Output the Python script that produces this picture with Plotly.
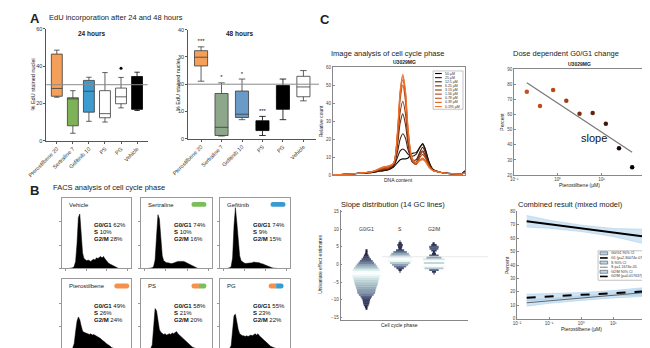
import plotly.graph_objects as go

W, H = 650, 348
FONT = "Arial, 'Liberation Sans', sans-serif"


def X(px):
    return px / W


def Y(py):
    return 1 - py / H


def dx(a, b):
    return [a / W, b / W]


def dy(a, b):
    return [1 - b / H, 1 - a / H]


# ---------------- Panel A data ----------------
a_cats = ["Pterostilbene 20", "Sertraline 7", "Gefitinib 10", "PS", "PG", "Vehicle"]
a24_low = [23.3, 4.0, 10.4, 10.0, 17.6, 16.2]
a24_q1 = [23.8, 8.0, 15.3, 12.3, 19.8, 16.8]
a24_med = [28.0, 22.4, 26.5, 14.5, 23.5, 17.0]
a24_q3 = [46.4, 23.0, 32.3, 26.8, 28.2, 34.4]
a24_high = [48.5, 26.8, 34.0, 36.5, 33.9, 36.7]
a24_outlier = [None, None, None, None, 38.8, None]
a24_colors = ["#F5A05A", "#7DB356", "#3D9BCF", "#FFFFFF", "#FFFFFF", "#000000"]
a24_ref = 30

a48_low = [21.1, 1.0, 7.0, 1.2, 7.0, 13.9]
a48_q1 = [26.7, 1.2, 7.8, 3.0, 10.8, 15.4]
a48_med = [29.9, 4.2, 9.0, 5.0, 15.0, 19.0]
a48_q3 = [32.3, 16.6, 17.5, 6.6, 19.5, 22.9]
a48_high = [33.7, 20.5, 21.9, 8.2, 21.9, 25.0]
a48_sig = ["***", "*", "*", "***", "", ""]
a48_colors = ["#F5A05A", "#8DA78A", "#6A9BC6", "#000000", "#000000", "#FFFFFF"]
a48_ref = 20

# ---------------- Panel B data ----------------
b_names = ["Vehicle", "Sertraline", "Gefitinib", "Pterostilbene", "PS", "PG"]
b_g1 = [62, 74, 74, 49, 58, 55]
b_s = [10, 10, 9, 26, 21, 23]
b_g2 = [28, 16, 15, 24, 20, 22]
b_pills = [[], ["#7CBF5A"], ["#3A9BD0"], ["#F5914A"], ["#F5914A", "#7CBF5A"], ["#F5914A", "#3A9BD0"]]
hist_x = list(range(10, 86, 2))
hist_vehicle = [0, 0, 0, 1, 3, 10, 35, 72, 77, 50, 22, 14, 12, 11, 12, 11, 10, 12, 13, 12, 15, 14, 16, 17, 15, 17, 14, 11, 9, 7, 6, 4, 3, 2, 1, 0.5, 0, 0]
hist_sertraline = [0, 0, 0, 1, 3, 12, 45, 76, 70, 40, 18, 11, 9, 8, 8, 7, 7, 7, 8, 8, 9, 10, 10, 10, 11, 10, 9, 8, 6, 5, 4, 3, 2, 1, 0.5, 0, 0, 0]
hist_gefitinib = [0, 0, 1, 3, 15, 60, 86, 65, 35, 18, 11, 9, 8, 7, 7, 7, 8, 8, 8, 9, 9, 8, 9, 8, 7, 7, 6, 5, 4, 3, 2, 1.5, 1, 0.5, 0, 0, 0, 0]
hist_ptero = [0, 0, 0, 2, 8, 25, 40, 46, 42, 33, 26, 24, 23, 22, 22, 21, 22, 20, 21, 20, 19, 18, 17, 15, 13, 12, 10, 8, 7, 5, 4, 2, 1, 0.5, 0, 0, 0, 0]
hist_ps = [0, 0, 1, 6, 30, 58, 55, 38, 28, 24, 22, 21, 22, 20, 21, 22, 21, 23, 22, 24, 25, 22, 20, 18, 16, 14, 12, 10, 8, 6, 5, 3, 2, 1, 0.5, 0, 0, 0]
hist_pg = [0, 0, 1, 5, 25, 48, 50, 38, 28, 22, 20, 19, 19, 18, 19, 18, 19, 20, 19, 21, 22, 20, 22, 19, 17, 15, 13, 11, 9, 7, 6, 4, 3, 2, 1, 0.5, 0, 0]
b_hists = [hist_vehicle, hist_sertraline, hist_gefitinib, hist_ptero, hist_ps, hist_pg]

# ---------------- Panel C data ----------------
dose_labels = ["50 µM", "25 µM", "12.5 µM", "6.25 µM", "3.13 µM", "1.56 µM", "0.78 µM", "0.39 µM", "0.195 µM"]
dose_colors = ["#000000", "#2E1307", "#4E200B", "#6F2D0F", "#8F3913", "#AD4617", "#C8531B", "#DF6121", "#F0722C"]
spec_x = [0, 10, 20, 30, 38, 42, 46, 49, 51, 53, 55, 57, 60, 63, 66, 68, 70, 73, 76, 82, 90, 97, 100]
spec_curves = [
    [0.3, 0.5, 1, 1.5, 2.5, 3, 4.5, 7, 8.5, 9, 9, 9.5, 12, 12.5, 15.5, 17.5, 14.5, 7, 3, 1.5, 0.8, 0.5, 2.5],
    [0.3, 0.5, 1, 1.5, 2.5, 3, 5, 10, 13.5, 14.5, 13.5, 11.5, 10.5, 11.5, 15.5, 17, 14, 7, 3, 1.5, 0.8, 0.5, 2],
    [0.3, 0.5, 1, 1.7, 3, 3.5, 5.5, 13, 20, 23, 20.5, 14, 8.5, 8.5, 13, 15.5, 12.5, 6, 3, 1.5, 0.8, 0.5, 2],
    [0.3, 0.5, 1, 1.8, 3, 3.5, 6, 17, 29, 34, 28, 17, 7.5, 7, 12, 13.5, 11, 5.5, 2.5, 1.5, 0.8, 0.5, 1.5],
    [0.3, 0.5, 1, 2, 3.5, 4, 6, 19, 35, 41, 34, 19, 7.5, 6, 11, 13, 10.5, 5, 2.5, 1.5, 0.8, 0.5, 1.5],
    [0.3, 0.5, 1, 2, 3.5, 4, 6.5, 22, 42, 50, 41, 22, 8.5, 6, 10, 11.5, 9.5, 5, 2.5, 1.5, 0.8, 0.5, 1.5],
    [0.3, 0.5, 1, 2, 4, 4.5, 6.5, 23, 45, 53, 44, 24, 8.5, 6, 8.5, 9.5, 8, 4.5, 2.5, 1.5, 0.8, 0.5, 1.2],
    [0.3, 0.5, 1, 2, 4.5, 5, 6.5, 24, 46, 55, 46, 25, 9.5, 7, 8.5, 9, 8, 4.5, 2.5, 1.5, 0.8, 0.5, 1.2],
    [0.3, 0.5, 1, 2, 4.5, 5, 6.5, 25, 47, 56, 47, 26, 9.5, 7, 8, 8.5, 7.5, 4, 2.5, 1.5, 0.8, 0.5, 1.2],
]

# dose response (ascending dose)
dr_dose = [0.195, 0.39, 0.78, 1.56, 3.13, 6.25, 12.5, 25, 50]
dr_g1 = [75.0, 65.6, 76.2, 69.0, 60.4, 61.0, 53.9, 37.7, 25.2]
dr_colors = ["#C4501C", "#BE4E1C", "#B84A1A", "#9C3E16", "#7A3010", "#5E240C", "#3E1808", "#150804", "#000000"]
dr_fit_x = [0.195, 50]
dr_fit_y = [80.9, 35.1]

# violin (slope distributions)
v_levels = [-14 + 0.5 * i for i in range(42)]
v_g1 = [0, 0, 0, 0.02, 0.04, 0.07, 0.09, 0.10, 0.11, 0.14, 0.17, 0.22, 0.26, 0.27, 0.28, 0.30, 0.32, 0.34, 0.35, 0.36,
        0.38, 0.40, 0.42, 0.44, 0.43, 0.40, 0.36, 0.32, 0.28, 0.23, 0.19, 0.14, 0.10, 0.07, 0.04, 0.02, 0.01, 0, 0, 0, 0, 0]
v_s = [0] * 24 + [0.01, 0.05, 0.11, 0.18, 0.24, 0.30, 0.36, 0.38, 0.36, 0.30, 0.26, 0.20, 0.12, 0.05, 0.06, 0.08, 0.05, 0.01]
v_g2 = [0] * 23 + [0.01, 0.06, 0.14, 0.28, 0.35, 0.36, 0.30, 0.36, 0.32, 0.22, 0.14, 0.06, 0.03, 0.08, 0.13, 0.14, 0.08, 0.02, 0]
v_cats = ["G0/G1", "S", "G2/M"]

# combined mixed model
fit_x = [0.02, 0.1, 1, 10, 100]
g1_fit = [72.7, 70.5, 67.4, 64.3, 61.2]
g1_lo = [68.4, 67.5, 65.0, 61.3, 55.7]
g1_hi = [77.0, 73.5, 69.8, 67.3, 66.7]
s_fit = [11.8, 13.2, 15.3, 17.4, 19.5]
s_lo = [9.3, 11.4, 13.6, 15.4, 16.6]
s_hi = [14.3, 15.0, 16.9, 19.3, 22.3]
g2_fit = [15.6, 16.5, 17.8, 19.0, 20.3]
g2_lo = [13.2, 14.7, 16.3, 17.2, 17.5]
g2_hi = [18.2, 18.4, 19.4, 20.9, 23.2]
c4_legend = ["G0/G1 90% CI", "G1 (p=2.30074e-07)", "S 90% CI", "S p=1.1674e-05", "G2/M 90% CI", "G2/M (p=0.017637)"]

fig = go.Figure()
annotations = []
shapes = []

# ================= Panel A =================
for (xa, ya, low, q1, med, q3, high, cols, wid) in [
        ("x", "y", a24_low, a24_q1, a24_med, a24_q3, a24_high, a24_colors, 0.68),
        ("x2", "y2", a48_low, a48_q1, a48_med, a48_q3, a48_high, a48_colors, 0.64)]:
    for i, c in enumerate(a_cats):
        lc = "#000000" if cols[i] == "#000000" else "#3a3a3a"
        fig.add_trace(go.Box(x=[c], q1=[q1[i]], median=[med[i]], q3=[q3[i]],
                             lowerfence=[low[i]], upperfence=[high[i]],
                             fillcolor=cols[i], line=dict(color=lc, width=0.8),
                             width=wid, whiskerwidth=0.5, boxpoints=False,
                             xaxis=xa, yaxis=ya, hoverinfo="skip"))

ox = [c for c, v in zip(a_cats, a24_outlier) if v is not None]
oy = [v for v in a24_outlier if v is not None]
fig.add_trace(go.Scatter(x=ox, y=oy, mode="markers", marker=dict(color="black", size=3),
                         xaxis="x", yaxis="y"))
sig_x = [c for c, s in zip(a_cats, a48_sig) if s]
sig_y = [h + 1.8 for h, s in zip(a48_high, a48_sig) if s]
sig_t = [s for s in a48_sig if s]
fig.add_trace(go.Scatter(x=sig_x, y=sig_y, text=sig_t, mode="text",
                         textfont=dict(size=6, color="#111"), xaxis="x2", yaxis="y2"))
shapes.append(dict(type="line", xref="x domain", yref="y", x0=0, x1=1, y0=a24_ref, y1=a24_ref,
                   line=dict(color="#8a8a8a", width=1)))
shapes.append(dict(type="line", xref="x2 domain", yref="y2", x0=0, x1=1.02, y0=a48_ref, y1=a48_ref,
                   line=dict(color="#8a8a8a", width=1)))

# ================= Panel B =================
b_xd = [(36, 108), (118, 192), (200, 273)]
b_yd = [(190, 262), (273, 344)]
for i in range(6):
    n = 3 + i
    fig.add_trace(go.Scatter(x=hist_x, y=b_hists[i], mode="lines", fill="tozeroy",
                             fillcolor="black", line=dict(color="black", width=0.5),
                             xaxis=f"x{n}", yaxis=f"y{n}"))

# ================= Panel C1: spectra =================
for k in range(len(dose_labels)):
    fig.add_trace(go.Scatter(x=spec_x, y=spec_curves[k], mode="lines", line_shape="spline",
                             line=dict(color=dose_colors[k], width=1.1, smoothing=0.8),
                             xaxis="x9", yaxis="y9"))

# ================= Panel C2: dose response =================
fig.add_trace(go.Scatter(x=dr_fit_x, y=dr_fit_y, mode="lines", line=dict(color="#777", width=1.2),
                         xaxis="x10", yaxis="y10"))
fig.add_trace(go.Scatter(x=dr_dose, y=dr_g1, mode="markers",
                         marker=dict(color=dr_colors, size=4.5, line=dict(width=0)),
                         xaxis="x10", yaxis="y10"))

# ================= Panel C3: violins =================
VCS = [[0, "#161630"], [0.25, "#3c4466"], [0.5, "#6d7d9b"], [0.75, "#a8bfc6"], [0.92, "#e0f1f0"], [1, "#ffffff"]]
for k, hw in enumerate([v_g1, v_s, v_g2]):
    cx = k + 1
    fig.add_trace(go.Bar(y=v_levels, x=[2 * w for w in hw], base=[cx - w for w in hw],
                         orientation="h", width=0.62,
                         marker=dict(color=hw, colorscale=VCS, cmin=0, cmax=max(hw), line=dict(width=0)),
                         xaxis="x11", yaxis="y11", hoverinfo="skip"))
    annotations.append(dict(x=cx, y=10, xref="x11", yref="y11", text=v_cats[k], showarrow=False,
                            font=dict(size=5, color="#333")))

# ================= Panel C4: combined =================
BAND = "rgba(185,215,238,0.65)"
for lo, hi in [(g1_lo, g1_hi), (s_lo, s_hi), (g2_lo, g2_hi)]:
    fig.add_trace(go.Scatter(x=fit_x + fit_x[::-1], y=lo + hi[::-1], fill="toself", fillcolor=BAND,
                             mode="lines", line=dict(color="rgba(160,200,230,1)", width=0.5),
                             xaxis="x12", yaxis="y12"))
fig.add_trace(go.Scatter(x=fit_x, y=g1_fit, mode="lines", line=dict(color="black", width=2),
                         xaxis="x12", yaxis="y12"))
fig.add_trace(go.Scatter(x=fit_x, y=s_fit, mode="lines", line=dict(color="#444", width=0.8),
                         xaxis="x12", yaxis="y12"))
fig.add_trace(go.Scatter(x=fit_x, y=g2_fit, mode="lines", line=dict(color="black", width=2, dash="dash"),
                         xaxis="x12", yaxis="y12"))

# ================= Axes =================
def ax(**kw):
    base = dict(showgrid=False, zeroline=False, showline=True, linecolor="#555", linewidth=0.8,
                ticks="outside", ticklen=2, tickwidth=0.7, tickcolor="#555",
                tickfont=dict(size=5.5, color="#333"))
    base.update(kw)
    return base


layout = dict(
    width=W, height=H, margin=dict(l=0, r=0, t=0, b=0), paper_bgcolor="white",
    plot_bgcolor="rgba(0,0,0,0)", showlegend=False, boxmode="overlay", barmode="overlay",
    font=dict(family=FONT, size=6, color="#222"),
    xaxis=ax(domain=dx(20, 125), anchor="y", type="category", categoryorder="array",
             categoryarray=a_cats, tickangle=-45, tickfont=dict(size=5.5, color="#333")),
    yaxis=ax(domain=dy(18, 132), anchor="x", range=[0, 60], tickvals=[0, 20, 40, 60]),
    xaxis2=ax(domain=dx(167, 300), anchor="y2", type="category", categoryorder="array",
              categoryarray=a_cats, tickangle=-45, tickfont=dict(size=5.5, color="#333")),
    yaxis2=ax(domain=dy(19, 130), anchor="x2", range=[0, 40], tickvals=[0, 10, 20, 30, 40]),
)
for i in range(6):
    n = 3 + i
    xd = b_xd[i % 3]
    yd = b_yd[i // 3]
    layout[f"xaxis{n}"] = ax(domain=dx(*xd), anchor=f"y{n}", range=[0, 100], showticklabels=False,
                             mirror=True, linecolor="#999", tickcolor="#999", tickvals=[5, 35, 65, 95])
    layout[f"yaxis{n}"] = ax(domain=dy(*yd), anchor=f"x{n}", range=[0, 100], showticklabels=False,
                             mirror=True, linecolor="#999", tickcolor="#999", tickvals=[0, 33, 66])

MAT = dict(linecolor="#888", tickcolor="#888", ticks="inside", tickfont=dict(size=4.5, color="#444"))
layout["xaxis9"] = ax(domain=dx(317, 454), anchor="y9", range=[0, 100], showticklabels=False,
                      mirror=True, **{**MAT, "ticks": ""})
layout["yaxis9"] = ax(domain=dy(57, 167), anchor="x9", range=[0, 60], dtick=10, mirror=True, **MAT)

log_txt = {0.01: "10⁻²", 0.1: "10⁻¹", 1: "10⁰", 10: "10¹", 100: "10²"}
layout["xaxis10"] = ax(domain=dx(505, 641), anchor="y10", type="log", range=[-1, 2],
                       tickvals=[0.1, 1, 10, 100], ticktext=[log_txt[v] for v in [0.1, 1, 10, 100]],
                       mirror=True, **MAT)
layout["yaxis10"] = ax(domain=dy(59, 167), anchor="x10", range=[20, 90], dtick=10, mirror=True, **MAT)

layout["xaxis11"] = ax(domain=dx(325, 457), anchor="y11", range=[0.24, 4.0], showticklabels=False,
                       **{**MAT, "ticks": ""})
layout["yaxis11"] = ax(domain=dy(202, 314), anchor="x11", range=[-15.56, 15.56],
                       tickvals=[-15, -10, -5, 0, 5, 10, 15], **MAT)

layout["xaxis12"] = ax(domain=dx(508, 641), anchor="y12", type="log", range=[-2, 2],
                       tickvals=[0.01, 0.1, 1, 10, 100], ticktext=[log_txt[v] for v in [0.01, 0.1, 1, 10, 100]],
                       **MAT)
layout["yaxis12"] = ax(domain=dy(204, 313), anchor="x12", range=[0, 80], dtick=10, **MAT)

# ================= Text =================
def txt(px, py, s, size=6, bold=False, anchor="left", angle=0, color="#222"):
    if bold:
        s = f"<b>{s}</b>"
    annotations.append(dict(x=X(px), y=Y(py), xref="paper", yref="paper", text=s, showarrow=False,
                            xanchor=anchor, yanchor="middle", textangle=angle,
                            font=dict(size=size, color=color, family=FONT)))

txt(1, 8, "A", 13, True)
txt(21, 7, "EdU incorporation after 24 and 48 hours", 7.5)
txt(67, 23, "24 hours", 6.5, True, "center")
txt(220, 23, "48 hours", 6.5, True, "center")
txt(6, 75, "% EdU stained nuclei", 5.5, anchor="center", angle=-90)
txt(156, 75, "% EdU stained nuclei", 5.5, anchor="center", angle=-90)

txt(1, 183, "B", 13, True)
txt(25, 180, "FACS analysis of cell cycle phase", 7.5)
for i in range(6):
    n = 3 + i
    annotations.append(dict(x=0.07, y=0.9, xref=f"x{n} domain", yref=f"y{n} domain", text=b_names[i],
                            showarrow=False, xanchor="left", yanchor="middle",
                            font=dict(size=6, color="#222")))
    lines = [f"<b>G0/G1</b> {b_g1[i]}%", f"<b>S</b> {b_s[i]}%", f"<b>G2/M</b> {b_g2[i]}%"]
    for j, ln in enumerate(lines):
        annotations.append(dict(x=0.44, y=0.62 - 0.1 * j, xref=f"x{n} domain", yref=f"y{n} domain",
                                text=ln, showarrow=False, xanchor="left", yanchor="middle",
                                font=dict(size=6, color="#111")))


def pill_path(xl, xr, yc, h, lround, rround):
    r = h / 2
    k = 4 / 3 * r
    p = f"M {X(xl + (r if lround else 0))},{Y(yc - r)} L {X(xr - (r if rround else 0))},{Y(yc - r)} "
    if rround:
        p += f"C {X(xr - r + k)},{Y(yc - r)} {X(xr - r + k)},{Y(yc + r)} {X(xr - r)},{Y(yc + r)} "
    else:
        p += f"L {X(xr)},{Y(yc - r)} L {X(xr)},{Y(yc + r)} "
    p += f"L {X(xl + (r if lround else 0))},{Y(yc + r)} "
    if lround:
        p += f"C {X(xl + r - k)},{Y(yc + r)} {X(xl + r - k)},{Y(yc - r)} {X(xl + r)},{Y(yc - r)} "
    else:
        p += f"L {X(xl)},{Y(yc + r)} L {X(xl)},{Y(yc - r)} "
    return p + "Z"


pill_right = [0, 6, 5, 2, 6, 7]
for i, cols in enumerate(b_pills):
    if not cols:
        continue
    xd = b_xd[i % 3]
    yd = b_yd[i // 3]
    xr = xd[1] - pill_right[i]
    xl = xr - 15.5
    yc = yd[0] + 6.8
    if len(cols) == 1:
        shapes.append(dict(type="path", xref="paper", yref="paper", path=pill_path(xl, xr, yc, 5, True, True),
                           fillcolor=cols[0], line=dict(width=0)))
    else:
        xm = (xl + xr) / 2
        shapes.append(dict(type="path", xref="paper", yref="paper", path=pill_path(xl, xm, yc, 5, True, False),
                           fillcolor=cols[0], line=dict(width=0)))
        shapes.append(dict(type="path", xref="paper", yref="paper", path=pill_path(xm, xr, yc, 5, False, True),
                           fillcolor=cols[1], line=dict(width=0)))

txt(302, 9, "C", 13, True)
txt(313, 43, "Image analysis of cell cycle phase", 7.5)
txt(391, 52, "U3029MG", 5, True, "center")
txt(305, 112, "Relative count", 5, anchor="center", angle=-90)
txt(385, 172, "DNA content", 5, anchor="center")

txt(502, 43, "Dose dependent G0/G1 change", 7.5)
txt(573, 54, "U3029MG", 5, True, "center")
txt(492, 113, "Percent", 5, anchor="center", angle=-90)
txt(573, 177, "Pterostilbene (µM)", 5, anchor="center")
annotations.append(dict(x=0.815, y=44.6, xref="x10", yref="y10", text="slope", showarrow=False,
                        font=dict(size=11, color="#111")))

txt(323, 197, "Slope distribution (14 GC lines)", 7.5)
txt(303, 258, "Univariate effect estimates", 5, anchor="center", angle=-90)
txt(386, 319, "Cell cycle phase", 5, anchor="center")
shapes.append(dict(type="line", xref="paper", yref="paper", x0=X(368), x1=X(478), y0=Y(250), y1=Y(250),
                   line=dict(color="#e4e4e4", width=0.8)))

txt(507, 197, "Combined result (mixed model)", 7.5)
txt(497, 258, "Percent", 5, anchor="center", angle=-90)
txt(575, 324, "Pterostilbene (µM)", 5, anchor="center")

# legend for C1
shapes.append(dict(type="rect", xref="paper", yref="paper", x0=X(421), x1=X(452), y0=Y(100), y1=Y(61),
                   fillcolor="white", line=dict(color="#888", width=0.5)))
for k, lab in enumerate(dose_labels):
    py = 63.6 + 4.2 * k
    shapes.append(dict(type="line", xref="paper", yref="paper", x0=X(423), x1=X(430), y0=Y(py), y1=Y(py),
                       line=dict(color=dose_colors[k], width=1.1)))
    txt(431, py, lab, 3.5, color="#333")

# legend for C4
shapes.append(dict(type="rect", xref="paper", yref="paper", x0=X(592), x1=X(641), y0=Y(274), y1=Y(244),
                   fillcolor="white", line=dict(color="#888", width=0.5)))
for k, lab in enumerate(c4_legend):
    py = 246.6 + 4.7 * k
    if k % 2 == 0:
        shapes.append(dict(type="rect", xref="paper", yref="paper", x0=X(594), x1=X(602), y0=Y(py + 1.5),
                           y1=Y(py - 1.5), fillcolor="rgba(185,215,238,1)", line=dict(color="#333", width=0.5)))
    else:
        st = [dict(color="black", width=1.6), dict(color="#444", width=0.7), dict(color="black", width=1.6, dash="dash")][k // 2]
        shapes.append(dict(type="line", xref="paper", yref="paper", x0=X(594), x1=X(602), y0=Y(py), y1=Y(py),
                           line=st))
    txt(603, py, lab, 3.6, color="#333")

layout["annotations"] = annotations
layout["shapes"] = shapes
fig.update_layout(**layout)
fig.write_html("out.html")
